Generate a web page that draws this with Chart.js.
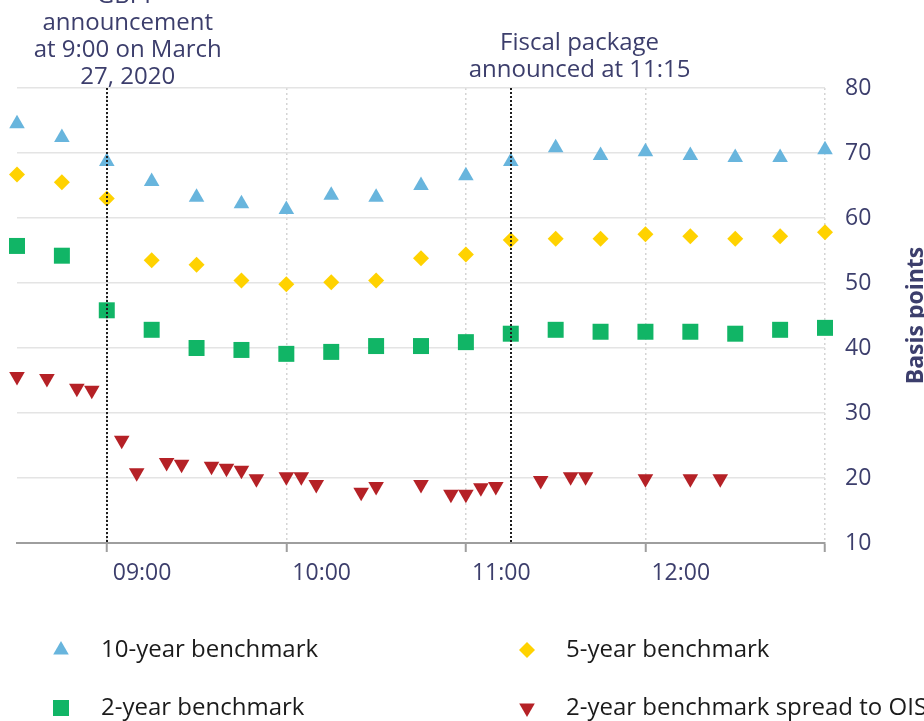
<!DOCTYPE html>
<html>
<head>
<meta charset="utf-8">
<script src="https://cdn.jsdelivr.net/npm/chart.js@4.4.1/dist/chart.umd.min.js"></script>
<style>
  html, body { margin: 0; padding: 0; background: #fff; }
  #wrap { width: 924px; height: 721px; position: relative; }
</style>
</head>
<body>
<div id="wrap"><canvas id="yieldChart"></canvas></div>
<script>
// Intraday readings, March 27, 2020 (basis points)
const benchTimes = ['08:30', '08:45', '09:00', '09:15', '09:30', '09:45', '10:00', '10:15', '10:30', '10:45',
                    '11:00', '11:15', '11:30', '11:45', '12:00', '12:15', '12:30', '12:45', '13:00'];
const tenYear  = [74.5, 72.4, 68.7, 65.6, 63.2, 62.2, 61.3, 63.5, 63.2, 65.0, 66.5, 68.7, 70.8, 69.6, 70.2, 69.6, 69.3, 69.3, 70.5];
const fiveYear = [66.7, 65.5, 63.0, 53.5, 52.8, 50.4, 49.8, 50.1, 50.4, 53.8, 54.4, 56.6, 56.8, 56.8, 57.5, 57.2, 56.8, 57.2, 57.8];
const twoYear  = [55.7, 54.2, 45.8, 42.8, 40.0, 39.7, 39.1, 39.4, 40.3, 40.3, 40.9, 42.2, 42.8, 42.5, 42.5, 42.5, 42.2, 42.8, 43.1];

const spreadTimes = ['08:30', '08:40', '08:50', '08:55', '09:05', '09:10', '09:20', '09:25', '09:35', '09:40',
                     '09:45', '09:50', '10:00', '10:05', '10:10', '10:25', '10:30', '10:45', '10:55', '11:00',
                     '11:05', '11:10', '11:25', '11:35', '11:40', '12:00', '12:15', '12:25'];
const spreadOis = [35.6, 35.3, 33.8, 33.5, 25.8, 20.8, 22.4, 22.1, 21.8, 21.5,
                   21.2, 19.9, 20.2, 20.2, 19.0, 17.8, 18.7, 19.0, 17.5, 17.5,
                   18.5, 18.7, 19.6, 20.2, 20.2, 19.9, 19.9, 19.9];

const hourTicks = ['09:00', '10:00', '11:00', '12:00'];
const eventTimes = ['09:00', '11:15'];
const eventLabels = [
    ['GBPP', 'announcement', 'at 9:00 on March', '27, 2020'],
    ['Fiscal package', 'announced at 11:15']
];
const axisTitle = 'Basis points';

const navy = '#3c3e6c';
const font = '"Open Sans", sans-serif';

function toMin(s) { return Number(s.slice(0, 2)) * 60 + Number(s.slice(3)); }
function fmt(v) {
    const h = Math.floor(v / 60), m = Math.round(v % 60);
    return String(h).padStart(2, '0') + ':' + String(m).padStart(2, '0');
}
function pts(times, vals) { return times.map((t, i) => ({ x: toMin(t), y: vals[i] })); }

// dotted event lines + their labels
const eventPlugin = {
    id: 'events',
    afterDatasetsDraw(chart) {
        const { ctx, chartArea } = chart;
        const xs = chart.scales.x;
        ctx.save();
        ctx.strokeStyle = '#1e1e1e';
        ctx.lineWidth = 2;
        ctx.setLineDash([2, 2]);
        eventTimes.forEach(t => {
            const px = Math.round(xs.getPixelForValue(toMin(t)));
            ctx.beginPath();
            ctx.moveTo(px, chartArea.top);
            ctx.lineTo(px, chartArea.bottom);
            ctx.stroke();
        });
        ctx.restore();

        // text blocks sit a little right of each line, bottom line near the plot top
        const shift = [7, 23];   // minutes to the right of the line
        const bottomGap = [11, 18];
        ctx.save();
        ctx.fillStyle = navy;
        ctx.font = '24px ' + font;
        ctx.textAlign = 'center';
        ctx.textBaseline = 'middle';
        eventTimes.forEach((t, i) => {
            const cx = xs.getPixelForValue(toMin(t) + shift[i]);
            const lines = eventLabels[i];
            lines.forEach((ln, j) => {
                const y = chartArea.top - bottomGap[i] - (lines.length - 1 - j) * 27;
                ctx.fillText(ln, cx, y);
            });
        });
        ctx.restore();
    }
};

// rotated axis title on the right and a two-column legend under the plot
const sidePlugin = {
    id: 'sideBits',
    afterDraw(chart) {
        const { ctx, chartArea } = chart;
        ctx.save();
        ctx.fillStyle = navy;
        ctx.font = 'bold 23px ' + font;
        ctx.translate(923, (chartArea.top + chartArea.bottom) / 2);
        ctx.rotate(-Math.PI / 2);
        ctx.textAlign = 'center';
        ctx.textBaseline = 'alphabetic';
        ctx.fillText(axisTitle, 0, 0);
        ctx.restore();

        const markX = [61, 527], textX = [101, 566], rowY = [650, 708];
        chart.data.datasets.forEach((ds, i) => {
            const col = i % 2, row = Math.floor(i / 2);
            ctx.save();
            ctx.fillStyle = ds.backgroundColor;
            ctx.strokeStyle = ds.backgroundColor;
            const r = ds.pointStyle === 'rect' ? 11.3 : ds.pointStyle === 'rectRot' ? 8 : 9;
            Chart.helpers.drawPoint(ctx, {
                pointStyle: ds.pointStyle, rotation: ds.rotation || 0, radius: r, borderWidth: 0
            }, markX[col], rowY[row]);
            ctx.fillStyle = '#1b1b1b';
            ctx.font = '24px ' + font;
            ctx.textAlign = 'left';
            ctx.textBaseline = 'middle';
            ctx.fillText(ds.label, textX[col], rowY[row]);
            ctx.restore();
        });
    }
};

const ctx = document.getElementById('yieldChart').getContext('2d');
const yieldChart = new Chart(ctx, {
    type: 'scatter',
    data: {
        datasets: [
            {
                label: '10-year benchmark',
                data: pts(benchTimes, tenYear),
                pointStyle: 'triangle', pointRadius: 9, pointBorderWidth: 0,
                backgroundColor: '#68b5dd', borderColor: '#68b5dd',
                clip: false
            },
            {
                label: '5-year benchmark',
                data: pts(benchTimes, fiveYear),
                pointStyle: 'rectRot', pointRadius: 8, pointBorderWidth: 0,
                backgroundColor: '#ffd200', borderColor: '#ffd200',
                clip: false
            },
            {
                label: '2-year benchmark',
                data: pts(benchTimes, twoYear),
                pointStyle: 'rect', pointRadius: 11.3, pointBorderWidth: 0,
                backgroundColor: '#11b566', borderColor: '#11b566',
                clip: false
            },
            {
                label: '2-year benchmark spread to OIS',
                data: pts(spreadTimes, spreadOis),
                pointStyle: 'triangle', rotation: 180, pointRotation: 180, pointRadius: 9, pointBorderWidth: 0,
                backgroundColor: '#b52126', borderColor: '#b52126',
                clip: false
            }
        ]
    },
    options: {
        responsive: true,
        maintainAspectRatio: false,
        animation: false,
        events: [],
        layout: { padding: { left: 17, top: 88, right: 0, bottom: 0 } },
        plugins: {
            legend: { display: false },
            tooltip: { enabled: false }
        },
        scales: {
            x: {
                type: 'linear',
                min: toMin('08:30'),
                max: toMin('13:00'),
                afterFit(scale) { scale.height = 178; },
                ticks: {
                    stepSize: 60,
                    includeBounds: false,
                    autoSkip: false,
                    maxRotation: 0,
                    align: 'start',
                    labelOffset: 6,
                    padding: 8,
                    color: navy,
                    font: { family: font, size: 23 },
                    callback: v => hourTicks.includes(fmt(v)) ? fmt(v) : ''
                },
                grid: {
                    color: '#d4d4d4',
                    lineWidth: 1.5,
                    tickColor: '#9e9e9e',
                    tickLength: 9,
                    tickWidth: 2
                },
                border: { display: true, color: '#9e9e9e', width: 2, dash: [2, 3] }
            },
            y: {
                position: 'right',
                min: 10,
                max: 80,
                afterFit(scale) { scale.width = 99; },
                ticks: {
                    stepSize: 10,
                    padding: 20,
                    color: navy,
                    font: { family: font, size: 23 }
                },
                grid: {
                    color: c => c.tick && c.tick.value === 10 ? 'rgba(0,0,0,0)' : '#e4e4e4',
                    lineWidth: 1.5,
                    drawTicks: false
                },
                border: { display: false }
            }
        }
    },
    plugins: [eventPlugin, sidePlugin]
});
</script>
</body>
</html>
